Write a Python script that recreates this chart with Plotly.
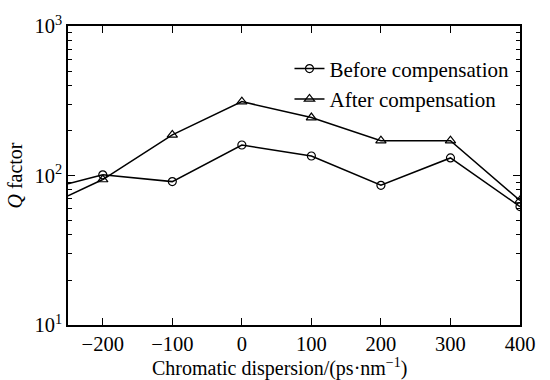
import plotly.graph_objects as go

# Data
dispersion = [-200, -100, 0, 100, 200, 300, 400]
q_before = [101, 91, 160, 135, 86, 131, 62]
q_after = [94, 187, 312, 244, 171, 171, 68]
# curve continues to the left edge of the plot
lead_x = [-250, -200]
lead_before = [88, 101]
lead_after = [73, 94]

x_ticks = [-200, -100, 0, 100, 200, 300, 400]
x_tick_text = ["\u2212200", "\u2212100", "0", "100", "200", "300", "400"]
y_ticks = [10, 100, 1000]
y_tick_text = ["10<sup>1</sup>", "10<sup>2</sup>", "10<sup>3</sup>"]
y_minor = [m * d for d in (10, 100) for m in range(2, 10)]
x_title = "Chromatic dispersion/(ps\u00b7nm<sup>\u22121</sup>)"

FONT = "Liberation Serif, Times New Roman, serif"

fig = go.Figure()
fig.add_trace(go.Scatter(x=lead_x, y=lead_before, mode="lines",
                         line=dict(color="black", width=1.5),
                         showlegend=False, hoverinfo="skip"))
fig.add_trace(go.Scatter(x=lead_x, y=lead_after, mode="lines",
                         line=dict(color="black", width=1.5),
                         showlegend=False, hoverinfo="skip"))
fig.add_trace(go.Scatter(x=dispersion, y=q_before, mode="lines+markers",
                         name="Before compensation",
                         line=dict(color="black", width=1.5),
                         marker=dict(symbol="circle-open", size=8, color="black",
                                     line=dict(width=1.2))))
fig.add_trace(go.Scatter(x=dispersion, y=q_after, mode="lines+markers",
                         name="After compensation",
                         line=dict(color="black", width=1.5),
                         marker=dict(symbol="triangle-up-open", size=9, color="black",
                                     line=dict(width=1.2))))

fig.update_layout(
    width=550, height=380,
    margin=dict(l=68, r=30, t=23, b=55),
    paper_bgcolor="white", plot_bgcolor="white",
    font=dict(family=FONT, size=20, color="black"),
    legend=dict(x=0.49, y=0.925, xanchor="left", yanchor="top",
                bgcolor="rgba(0,0,0,0)", font=dict(size=21),
                tracegroupgap=0, itemwidth=30),
    xaxis=dict(range=[-250, 400], tickvals=x_ticks, ticktext=x_tick_text,
               ticks="inside", ticklen=7, tickwidth=1.2, tickcolor="black",
               showline=True, linecolor="black", linewidth=1.5, mirror="ticks",
               showgrid=False, zeroline=False, tickfont=dict(size=20.5)),
    yaxis=dict(type="log", range=[1, 3], tickvals=y_ticks, ticktext=y_tick_text,
               ticks="inside", ticklen=7, tickwidth=1.2, tickcolor="black",
               showline=True, linecolor="black", linewidth=1.5, mirror="ticks",
               showgrid=False, zeroline=False, tickfont=dict(size=20.5),
               minor=dict(tickvals=y_minor, ticks="inside", ticklen=4,
                          tickwidth=1, tickcolor="black", showgrid=False),
               title=dict(text="<i>Q</i> factor", standoff=6, font=dict(size=20))),
    annotations=[dict(text=x_title, xref="paper", yref="paper",
                      x=0.468, y=-0.095, xanchor="center", yanchor="top",
                      showarrow=False, font=dict(size=20))],
)

fig.write_html("out.html")
